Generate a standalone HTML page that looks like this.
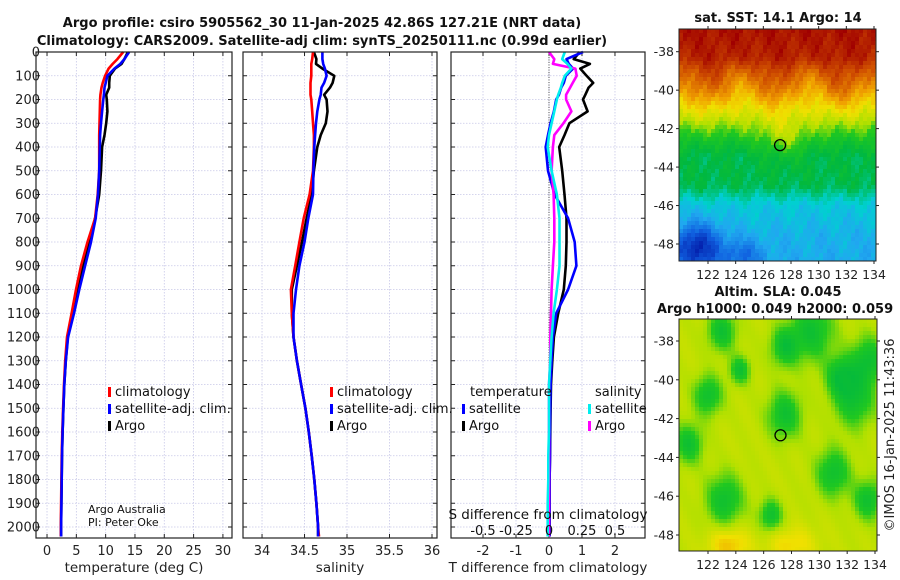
<!DOCTYPE html>
<html><head><meta charset="utf-8"><style>
body{margin:0;background:#fff}
svg{display:block;font-family:"DejaVu Sans","Liberation Sans",sans-serif}
</style></head><body>
<svg id="fig" width="900" height="580" viewBox="0 0 900 580">
<g id="bg"></g>
</svg>
<script>
const depths   = [0,30,50,70,100,130,150,180,200,250,300,350,400,500,600,700,800,900,1000,1100,1200,1300,1400,1500,1600,1700,1800,1900,2000,2040];
const tempClim = [13.0,12.0,11.2,10.5,9.9,9.5,9.3,9.1,9.05,9.0,8.95,8.9,8.9,8.9,8.65,8.2,6.9,5.8,4.95,4.2,3.4,3.1,2.9,2.75,2.6,2.5,2.45,2.4,2.35,2.35];
const tempSat  = [14.0,13.2,12.5,11.5,10.3,10.0,9.8,9.7,9.6,9.4,9.2,9.05,9.0,8.9,8.7,8.3,7.5,6.5,5.5,4.6,3.6,3.2,2.95,2.8,2.65,2.55,2.5,2.45,2.4,2.4];
const tempArgo = [13.8,13.2,12.7,11.6,10.7,10.6,10.6,10.1,10.2,10.3,10.1,9.8,9.4,9.2,8.9,8.2,7.2,6.2,5.2,4.4,3.55,3.2,2.95,2.8,2.65,2.55,2.5,2.45,2.4,2.4];
const salClim  = [34.60,34.59,34.58,34.58,34.58,34.57,34.57,34.57,34.58,34.59,34.60,34.61,34.61,34.60,34.56,34.49,34.44,34.39,34.34,34.35,34.37,34.41,34.46,34.51,34.55,34.585,34.615,34.64,34.66,34.67];
const salSat   = [34.71,34.71,34.72,34.74,34.76,34.73,34.70,34.69,34.675,34.65,34.635,34.625,34.615,34.605,34.60,34.545,34.50,34.44,34.40,34.37,34.37,34.41,34.46,34.51,34.55,34.585,34.615,34.64,34.66,34.66];
const salArgo  = [34.61,34.64,34.635,34.71,34.85,34.83,34.80,34.73,34.76,34.77,34.75,34.69,34.65,34.61,34.585,34.525,34.47,34.41,34.35,34.35,34.37,34.41,34.46,34.51,34.55,34.585,34.615,34.64,34.66,34.66];
const dTSat    = [1.03,0.53,0.6,0.73,0.51,0.45,0.37,0.3,0.22,0.15,0.05,-0.03,-0.1,-0.03,0.17,0.58,0.78,0.83,0.58,0.22,0.12,0.08,0.05,0.04,0.03,0.03,0.02,0.02,0.02,0.02];
const dTArgo   = [0.93,0.75,1.24,0.95,1.14,1.34,1.2,1.1,1.03,1.17,0.62,0.47,0.31,0.40,0.47,0.53,0.53,0.51,0.45,0.28,0.15,0.1,0.06,0.05,0.04,0.03,0.02,0.02,0.02,0.02];
const dSSat    = [0.12,0.10,0.14,0.17,0.12,0.10,0.09,0.07,0.06,0.04,0.02,0.0,-0.01,0.02,0.06,0.08,0.08,0.08,0.06,0.035,0.02,0.01,0.0,0.0,0.0,-0.005,-0.005,-0.01,-0.01,-0.01];
const dSArgo   = [0.0,0.04,0.03,0.2,0.21,0.18,0.16,0.13,0.13,0.17,0.11,0.04,0.03,0.02,0.035,0.04,0.04,0.03,0.02,0.015,0.01,0.01,0.0,0.0,0.0,0.0,0.0,0.0,0.0,0.0];
const depthTicks = [0,100,200,300,400,500,600,700,800,900,1000,1100,1200,1300,1400,1500,1600,1700,1800,1900,2000];
const tTicks = [0,5,10,15,20,25,30];
const sTicks = [34,34.5,35,35.5,36];
const sTickLabels = ["34","34.5","35","35.5","36"];
const dTTicks = [-2,-1,0,1,2];
const dSTicks = [-0.5,-0.25,0,0.25,0.5];
const dSTickLabels = ["-0.5","-0.25","0","0.25","0.5"];
const lonTicks = [122,124,126,128,130,132,134];
const latTicks = [-38,-40,-42,-44,-46,-48];
const argoLon = 127.21, argoLat = -42.86;

const NS="http://www.w3.org/2000/svg";
const svg=document.getElementById('fig');
function el(tag,attrs,parent,text){const e=document.createElementNS(NS,tag);for(const k in attrs)e.setAttribute(k,attrs[k]);if(text!==undefined)e.textContent=text;(parent||svg).appendChild(e);return e;}

const Y0=52, Y1=538, DMAX=(538-52)/0.2375;
const yD=d=>Y0+d/DMAX*(Y1-Y0);
function lin(d0,d1,r0,r1){return v=>r0+(v-d0)/(d1-d0)*(r1-r0);}

const panels=[
 {x0:36,x1:232,x:lin(-1.88,31.55,36,232),name:'temperature-panel'},
 {x0:243,x1:437,x:lin(33.776,36.059,243,437),name:'salinity-panel'},
 {x0:451,x1:645,x:lin(-2.97,2.91,451,645),name:'difference-panel'}
];
const sx3=lin(-0.7425,0.7275,451,645);

function frame(p,vt){
  const g=el('g',{});
  
  
  el('rect',{x:p.x0,y:Y0,width:p.x1-p.x0,height:Y1-Y0,fill:'#fff'},g);
  depthTicks.forEach(d=>{const y=yD(d);
    el('line',{x1:p.x0,x2:p.x1,y1:y,y2:y,stroke:'#c8c8e8','stroke-width':0.8,'stroke-dasharray':'1.5,1.5'},g);
    el('line',{x1:p.x0,x2:p.x0+4,y1:y,y2:y,stroke:'#222'},g);
    el('line',{x1:p.x1-4,x2:p.x1,y1:y,y2:y,stroke:'#222'},g);});
  vt.forEach(v=>{const x=p.x(v);
    el('line',{x1:x,x2:x,y1:Y0,y2:Y1,stroke:'#c8c8e8','stroke-width':0.8,'stroke-dasharray':'1.5,1.5'},g);
    el('line',{x1:x,x2:x,y1:Y0,y2:Y0+4,stroke:'#222'},g);
    el('line',{x1:x,x2:x,y1:Y1-4,y2:Y1,stroke:'#222'},g);});
  return g;
}
function border(p){el('rect',{x:p.x0,y:Y0,width:p.x1-p.x0,height:Y1-Y0,fill:'none',stroke:'#222','stroke-width':1.2});}
function line(p,xf,vals,color,name,w){
  const pts=vals.map((v,i)=>xf(v).toFixed(1)+','+yD(depths[i]).toFixed(1)).join(' ');
  const e=el('polyline',{points:pts,fill:'none',stroke:color,'stroke-width':w||2.6,'stroke-linejoin':'round'});
  
  
}

const P1=panels[0];frame(P1,tTicks);
line(P1,P1.x,tempArgo,'#000','temp-argo-line');
line(P1,P1.x,tempClim,'#f00','temp-climatology-line');
line(P1,P1.x,tempSat,'#00f','temp-satellite-line');
border(P1);
const P2=panels[1];frame(P2,sTicks);
line(P2,P2.x,salArgo,'#000','sal-argo-line');
line(P2,P2.x,salClim,'#f00','sal-climatology-line');
line(P2,P2.x,salSat,'#00f','sal-satellite-line');
border(P2);
const P3=panels[2];frame(P3,dTTicks);
el('line',{x1:P3.x(0),x2:P3.x(0),y1:Y0,y2:Y1,stroke:'#555','stroke-width':1,'stroke-dasharray':'1,1.5'});
line(P3,P3.x,dTArgo,'#000','dT-argo-line');
line(P3,P3.x,dTSat,'#00f','dT-satellite-line');
line(P3,sx3,dSArgo,'#f0f','dS-argo-line');
line(P3,sx3,dSSat,'#0ee','dS-satellite-line');
border(P3);

const FS=13;
depthTicks.forEach(d=>{el('text',{x:40,y:yD(d)+4.5,'text-anchor':'end','font-size':FS,fill:'#222'},svg,String(d));});
tTicks.forEach(v=>el('text',{x:P1.x(v),y:555,'text-anchor':'middle','font-size':FS,fill:'#222'},svg,String(v)));
sTicks.forEach((v,i)=>el('text',{x:P2.x(v),y:555,'text-anchor':'middle','font-size':FS,fill:'#222'},svg,sTickLabels[i]));
dTTicks.forEach(v=>el('text',{x:P3.x(v),y:555,'text-anchor':'middle','font-size':FS,fill:'#222'},svg,String(v)));
dSTicks.forEach((v,i)=>el('text',{x:sx3(v),y:535,'text-anchor':'middle','font-size':FS,fill:'#111'},svg,dSTickLabels[i]));
let t;
t=el('text',{x:134,y:572,'text-anchor':'middle','font-size':13.5,fill:'#222'},svg,'temperature (deg C)');
t=el('text',{x:340,y:572,'text-anchor':'middle','font-size':13.5,fill:'#222'},svg,'salinity');
t=el('text',{x:548,y:572,'text-anchor':'middle','font-size':13.5,fill:'#222'},svg,'T difference from climatology');
t=el('text',{x:548,y:519,'text-anchor':'middle','font-size':13.5,fill:'#111'},svg,'S difference from climatology');
el('text',{x:88,y:513,'font-size':11,fill:'#111'},svg,'Argo Australia');
el('text',{x:88,y:526,'font-size':11,fill:'#111'},svg,'PI: Peter Oke');

t=el('text',{x:322,y:27,'text-anchor':'middle','font-size':13,'font-weight':'bold',fill:'#111'},svg,'Argo profile: csiro 5905562_30 11-Jan-2025 42.86S 127.21E (NRT data)');
el('text',{x:322,y:45,'text-anchor':'middle','font-size':13,'font-weight':'bold',fill:'#111'},svg,'Climatology: CARS2009. Satellite-adj clim: synTS_20250111.nc (0.99d earlier)');

function leg(x,y,color,label,name){const g=el('g',{});
 el('rect',{x:x,y:y-9,width:3,height:10,fill:color},g);el('text',{x:x+7,y:y,'font-size':13,fill:'#111'},g,label);}
leg(108,396,'#f00','climatology','legend-climatology');
leg(108,413,'#00f','satellite-adj. clim.','legend-satellite-adj');
leg(108,430,'#000','Argo','legend-argo');
leg(330,396,'#f00','climatology','legend-sal-climatology');
leg(330,413,'#00f','satellite-adj. clim.','legend-sal-satellite-adj');
leg(330,430,'#000','Argo','legend-sal-argo');
el('text',{x:470,y:396,'font-size':13,fill:'#111'},svg,'temperature');
leg(462,413,'#00f','satellite','legend-t-satellite');
leg(462,430,'#000','Argo','legend-t-argo');
el('text',{x:595,y:396,'font-size':13,fill:'#111'},svg,'salinity');
leg(588,413,'#0ee','satellite','legend-s-satellite');
leg(588,430,'#f0f','Argo','legend-s-argo');

const cmPos=[0,0.15,0.28,0.36,0.45,0.55,0.62,0.7,0.78,0.88,1];
const cmCol=[[0,16,160],[16,96,224],[32,168,240],[0,208,208],[0,184,64],[32,200,32],[176,224,0],[240,224,0],[240,160,0],[208,80,0],[160,0,0]];
function cmap(v){v=Math.max(0,Math.min(1,v));let i=1;while(i<cmPos.length-1&&v>cmPos[i])i++;
 const f=(v-cmPos[i-1])/(cmPos[i]-cmPos[i-1]);const a=cmCol[i-1],b=cmCol[i];
 return 'rgb('+[0,1,2].map(k=>Math.round(a[k]+f*(b[k]-a[k]))).join(',')+')';}
function mapPanel(x0,y0,x1,y1,lon0,lat0,field,name){
 const g=el('g',{});
 const lonX=lin(122,134,lon0.a,lon0.b), latY=lin(-38,-48,lat0.a,lat0.b);
 const cs=4;
 for(let y=y0;y<y1;y+=cs)for(let x=x0;x<x1;x+=cs){
   const lon=122+(x+cs/2-lon0.a)/(lon0.b-lon0.a)*12, lat=-38-(y+cs/2-lat0.a)/(lat0.b-lat0.a)*10;
   el('rect',{x:x,y:y,width:Math.min(cs,x1-x)+0.3,height:Math.min(cs,y1-y)+0.3,fill:cmap(field(lon,lat))},g);}
 el('rect',{x:x0,y:y0,width:x1-x0,height:y1-y0,fill:'none',stroke:'#222','stroke-width':1},g);
 lonTicks.forEach(v=>{const x=lonX(v);el('line',{x1:x,x2:x,y1:y1,y2:y1+3,stroke:'#222'},g);el('line',{x1:x,x2:x,y1:y0,y2:y0-3,stroke:'#222'},g);
   el('text',{x:x,y:y1+18,'text-anchor':'middle','font-size':12.5,fill:'#222'},g,String(v));});
 latTicks.forEach(v=>{const y=latY(v);el('line',{x1:x0-3,x2:x0,y1:y,y2:y,stroke:'#222'},g);el('line',{x1:x1,x2:x1+3,y1:y,y2:y,stroke:'#222'},g);
   el('text',{x:x0-5,y:y+4.5,'text-anchor':'end','font-size':12.5,fill:'#222'},g,String(v));});
 const c=el('ellipse',{cx:lonX(argoLon),cy:latY(argoLat),rx:5.5,ry:5.5,fill:'none',stroke:'#000','stroke-width':1.3},g);
 
}
const sstLat=[-36.5,-38.3,-39,-40,-41,-42.3,-43.5,-45,-46,-47.5,-49.5];
const sstVal=[0.98,0.95,0.88,0.8,0.7,0.6,0.47,0.44,0.34,0.3,0.28];
function interp(xs,ys,x){if(x>=xs[0])return ys[0];for(let i=1;i<xs.length;i++){if(x>=xs[i]){const f=(x-xs[i-1])/(xs[i]-xs[i-1]);return ys[i-1]+f*(ys[i]-ys[i-1]);}}return ys[ys.length-1];}
function sst(lon,lat){
 let v=interp(sstLat,sstVal,lat);
 v+=0.015*Math.sin(lon*2.3+lat*1.7)+0.015*Math.sin(lon*5.1-lat*3.3)+0.012*Math.sin(lon*11.7+lat*7.9);
 const band=Math.exp(-((lat+42.6)**2)/1.2);
 v+=band*(0.09*Math.exp(-((lon-127.5)**2)/3)-0.05);
 v+=0.04*Math.exp(-((lat+39.8)**2)/1.5)*Math.sin(lon*1.3);
 v-=0.25*Math.exp(-(((lon-121.2)**2)/3+((lat+48.2)**2)/1.5));
 v-=0.12*Math.exp(-(((lon-124.5)**2)/2+((lat+48.6)**2)/0.6));
 return v;}
mapPanel(679,29,876,261,{a:708,b:874},{a:51.7,b:244},sst,'sst-map');
const blobs=[[123,-37.5,1],[127.5,-38.3,1],[131.5,-39.8,1],[122,-40.8,1],[127.5,-41.8,1.2],[120.6,-43.3,1],[131,-44.8,1.2],[123.2,-46.2,1.3],[126.5,-47,0.8],[133.5,-46.2,1],[129.5,-37.5,1.5],[124.3,-39.5,0.7],[132.5,-41,1.4],[133.5,-39,1.2]];
function sla(lon,lat){
 let v=0.64;
 blobs.forEach(b=>{const d=((lon-b[0])**2+(lat-b[1])**2)/(b[2]*b[2]);v-=0.14*Math.exp(-d);});
 v=Math.max(v,0.47);
 v+=0.008*Math.sin(lon*3+lat*2);
 const s=Math.exp(-((lat+48.5)**2)/0.8);
 v+=s*(0.1*Math.exp(-((lon-123.5)**2)/2)+0.07*Math.exp(-((lon-128)**2)/3));
 return v;}
mapPanel(679,319,877,551,{a:708,b:875},{a:341,b:535},sla,'sla-map');
t=el('text',{x:778,y:22,'text-anchor':'middle','font-size':13,'font-weight':'bold',fill:'#111'},svg,'sat. SST: 14.1 Argo: 14');
el('text',{x:778,y:296,'text-anchor':'middle','font-size':13,'font-weight':'bold',fill:'#111'},svg,'Altim. SLA: 0.045');
el('text',{x:775,y:313,'text-anchor':'middle','font-size':13,'font-weight':'bold',fill:'#111'},svg,'Argo h1000: 0.049 h2000: 0.059');
el('text',{x:0,y:0,'text-anchor':'middle','font-size':13,fill:'#222',transform:'translate(894,435) rotate(-90)'},svg,'©IMOS 16-Jan-2025 11:43:36');
</script>
</body></html>
